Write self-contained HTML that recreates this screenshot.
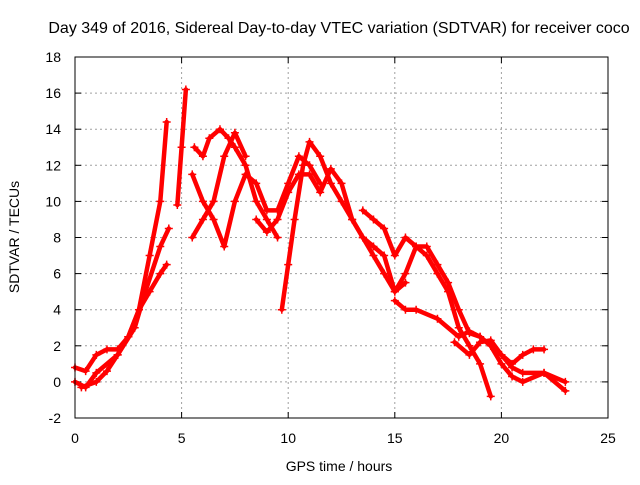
<!DOCTYPE html>
<html><head><meta charset="utf-8"><style>
body{margin:0;background:#fff}
text{font-family:"Liberation Sans",sans-serif;font-size:14px;fill:#000}
</style></head><body>
<svg id="chart" width="640" height="480">
<rect width="640" height="480" fill="#fff"/>
<text x="339" y="33" text-anchor="middle" style="font-size:16px">Day 349 of 2016, Sidereal Day-to-day VTEC variation (SDTVAR) for receiver coco</text>
<text x="339" y="471" text-anchor="middle">GPS time / hours</text>
<text transform="translate(19,237) rotate(-90)" text-anchor="middle">SDTVAR / TECUs</text>
<g id="grid"></g><g id="marks"></g>
<rect x="75" y="57" width="533" height="361" fill="none" stroke="#000" stroke-width="1"/>
</svg>
<script>
const xTicks=[0,5,10,15,20,25];
const yTicks=[-2,0,2,4,6,8,10,12,14,16,18];
const trackA=[[0,0.8],[0.5,0.6],[1,1.5],[1.5,1.8],[2,1.8],[2.5,2.5],[3,4],[3.5,7],[4,10],[4.3,14.4]];
const trackB=[[0,0],[0.5,-0.3],[1,0.5],[2,1.5],[2.8,3],[3.3,5],[4,7.5],[4.4,8.5]];
const trackC=[[0.3,-0.3],[1,0],[1.5,0.6],[2,1.5],[2.5,2.5],[3,4],[3.5,5],[4,6],[4.3,6.5]];
const trackD=[[4.8,9.8],[5,13],[5.2,16.2]];
const trackE=[[5.6,13],[6,12.5],[6.3,13.5],[6.8,14],[7.2,13.5],[7.5,13],[8,12],[8.5,10],[9,9],[9.5,8]];
const trackF=[[5.5,8],[6,9],[6.5,10],[7,12.5],[7.5,13.8],[8,12.5]];
const trackG=[[5.5,11.5],[6,10],[6.5,9],[7,7.5],[7.5,10],[8,11.5],[8.5,11],[9,9.5],[9.5,9.5],[10,11],[10.5,12.5],[11,12],[11.5,11]];
const trackH=[[9.7,4],[10,6.5],[10.3,9],[10.7,12],[11,13.3],[11.5,12.5],[12,11],[12.5,10],[13,9],[13.5,8],[14,7.5],[14.5,7],[15,5],[15.5,5.5]];
const trackI=[[8.5,9],[9,8.3],[9.5,9],[10,10.5],[10.5,11.5],[11,11.5],[11.5,10.5],[12,11.8],[12.5,11],[13,9],[13.5,8],[14,7],[14.5,6],[15,5],[15.5,6],[16,7.5],[16.5,7.5],[17,6.5],[17.5,5.5],[18,4],[18.5,2.7],[19,2.5],[19.5,2],[20,1],[20.5,0.3],[21,0],[22,0.5],[23,0]];
const trackJ=[[13.5,9.5],[14,9],[14.5,8.5],[15,7],[15.5,8],[16,7.5],[16.5,7],[17,6],[17.5,5],[18,3],[18.5,2],[19,1],[19.5,-0.8]];
const trackK=[[15,4.5],[15.5,4],[16,4],[17,3.5],[18,2.5],[18.5,2.8],[19,2.5],[19.5,2],[20,1.5],[20.5,1],[21,1.5],[21.5,1.8],[22,1.8]];
const trackL=[[17.8,2.2],[18.5,1.5],[19,2.2],[19.5,2.3],[20,1.5],[20.5,0.8],[21,0.5],[22,0.5],[23,-0.5]];
const tracks=[trackA,trackB,trackC,trackD,trackE,trackF,trackG,trackH,trackI,trackJ,trackK,trackL];
const X0=75,X1=608,Y0=418,Y1=57;
function sx(v){return X0+(v-0)/(25-0)*(X1-X0);}
function sy(v){return Y0-(v+2)/(20)*(Y0-Y1);}
const NS="http://www.w3.org/2000/svg";
const grid=document.getElementById('grid'),marks=document.getElementById('marks');
function mk(t,a,p){const e=document.createElementNS(NS,t);for(const k in a)e.setAttribute(k,a[k]);p.appendChild(e);return e;}
xTicks.forEach(v=>{
 if(v>0&&v<25){const g=mk('line',{x1:sx(v),x2:sx(v),y1:Y1,y2:Y0,stroke:'#a0a0a0','stroke-dasharray':'2,3'},grid);
 
 }
 mk('line',{x1:sx(v),x2:sx(v),y1:Y0,y2:Y0-6,stroke:'#000'},grid);
 mk('line',{x1:sx(v),x2:sx(v),y1:Y1,y2:Y1+6,stroke:'#000'},grid);
 const t=mk('text',{x:sx(v),y:Y0+25,'text-anchor':'middle'},grid);t.textContent=v;
 
 
});
yTicks.forEach(v=>{
 if(v>-2&&v<18){const g=mk('line',{x1:X0,x2:X1,y1:sy(v),y2:sy(v),stroke:'#a0a0a0','stroke-dasharray':'2,3'},grid);
 
 }
 mk('line',{x1:X0,x2:X0+6,y1:sy(v),y2:sy(v),stroke:'#000'},grid);
 mk('line',{x1:X1,x2:X1-6,y1:sy(v),y2:sy(v),stroke:'#000'},grid);
 const t=mk('text',{x:X0-14,y:sy(v)+5,'text-anchor':'end'},grid);t.textContent=v;
 
 
});
tracks.forEach(tr=>{
 const p=mk('polyline',{points:tr.map(d=>sx(d[0])+','+sy(d[1])).join(' '),fill:'none',stroke:'#f00','stroke-width':4.5,'stroke-linejoin':'round','stroke-linecap':'round'},marks);
 
 
 tr.forEach(d=>{
  const c=mk('path',{d:`M${sx(d[0])-4},${sy(d[1])}h8M${sx(d[0])},${sy(d[1])-4}v8`,stroke:'#f00','stroke-width':1.5},marks);
  
  
 });
});
</script>
</body></html>
